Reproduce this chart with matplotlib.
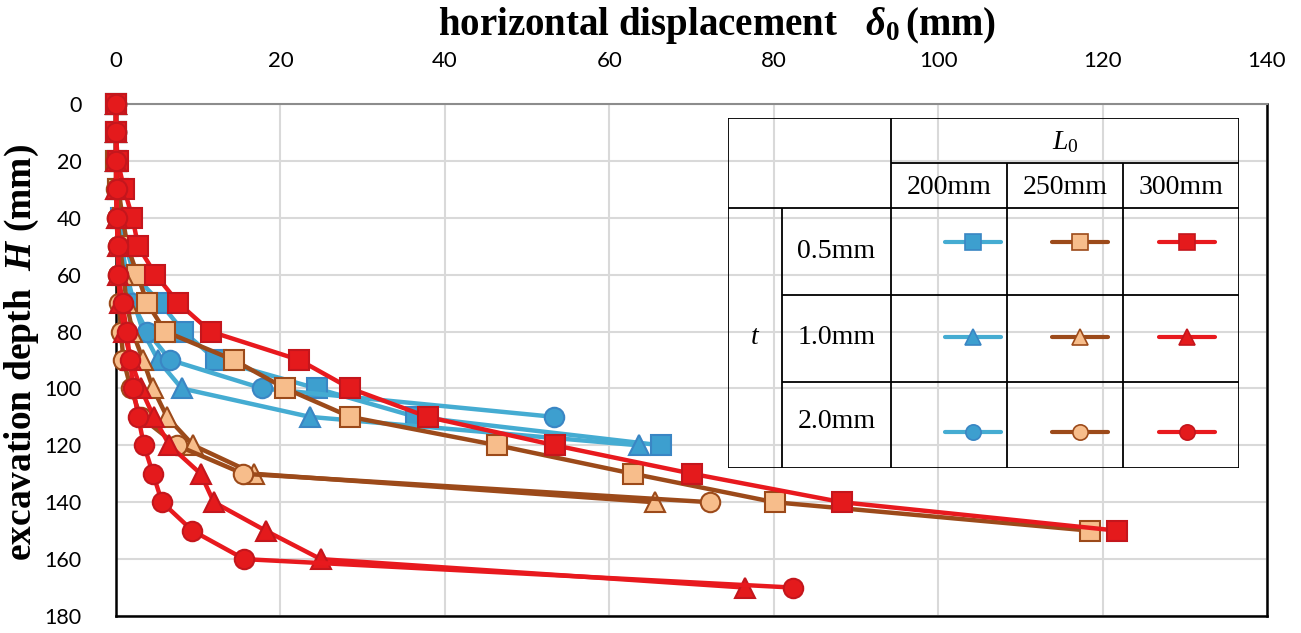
import numpy as np
import matplotlib.pyplot as plt

plt.rcParams['mathtext.fontset'] = 'custom'
plt.rcParams['mathtext.rm'] = 'Liberation Serif'
plt.rcParams['mathtext.it'] = 'Liberation Serif:italic'
plt.rcParams['mathtext.bf'] = 'Liberation Serif:bold'
plt.rcParams['mathtext.bfit'] = 'Liberation Serif:bold:italic'

# depth of each excavation step (mm)
depth = [0, 10, 20, 30, 40, 50, 60, 70, 80, 90, 100, 110, 120, 130, 140, 150, 160, 170]

# horizontal displacement (mm), L0 = 200 / 250 / 300 mm, t = 0.5 / 1.0 / 2.0 mm
d200_t05 = [0, 0, 0, 0.2, 0.6, 1.2, 2.2, 5.4, 8.2, 12.2, 24.4, 36.5, 66.3]
d200_t10 = [0, 0, 0, 0.1, 0.3, 0.7, 1.3, 2.2, 3.3, 5.1, 8.0, 23.6, 63.6]
d200_t20 = [0, 0, 0, 0.1, 0.3, 0.6, 1.1, 2.0, 3.8, 6.6, 17.8, 53.3]

d250_t05 = [0, 0, 0, 0.3, 0.8, 1.4, 2.6, 3.8, 6.0, 14.3, 20.6, 28.5, 46.4, 62.9, 80.1, 118.5]
d250_t10 = [0, 0, 0, 0.1, 0.2, 0.5, 0.9, 1.3, 2.0, 3.3, 4.5, 6.2, 9.4, 16.8, 65.5]
d250_t20 = [0, 0, 0, 0, 0.1, 0.2, 0.3, 0.4, 0.6, 0.9, 1.8, 3.0, 7.4, 15.5, 72.3]

d300_t05 = [0, 0, 0.2, 1.0, 2.0, 2.7, 4.8, 7.6, 11.5, 22.3, 28.5, 37.9, 53.4, 70.1, 88.3, 121.8]
d300_t10 = [0, 0, 0, 0, 0.1, 0.2, 0.3, 0.5, 1.0, 1.8, 3.0, 4.6, 6.5, 10.3, 11.9, 18.2, 24.9, 76.5]
d300_t20 = [0, 0, 0, 0.1, 0.1, 0.3, 0.3, 0.8, 1.3, 1.7, 2.1, 2.7, 3.4, 4.5, 5.6, 9.3, 15.6, 82.3]

L0_labels = ['200mm', '250mm', '300mm']
t_labels = ['0.5mm', '1.0mm', '2.0mm']

# styles: (line colour, marker face, marker edge) per L0 ; marker per t
styles = [('#45acd2', '#3d9fcf', '#3a86c4'),
          ('#9c4a1a', '#f7bd8b', '#9c4a1a'),
          ('#e8191e', '#e41a1c', '#c4161c')]
markers = ['s', '^', 'o']
msizes = [14, 14, 14]

series = [[d200_t05, d200_t10, d200_t20],
          [d250_t05, d250_t10, d250_t20],
          [d300_t05, d300_t10, d300_t20]]

fig = plt.figure(figsize=(13.01, 6.33), dpi=100)
ax = fig.add_axes([116/1301, 1-616/633, (1267-116)/1301, (616-104)/633])

for i, group in enumerate(series):
    lc, mf, me = styles[i]
    for j, vals in enumerate(group):
        ax.plot(vals, depth[:len(vals)], color=lc, lw=3.2, marker=markers[j],
                ms=msizes[j], mfc=mf, mec=me, mew=1.5, clip_on=False, zorder=3)

ax.set_xlim(0, 140)
ax.set_ylim(180, 0)
ax.set_xticks(np.arange(0, 141, 20))
ax.set_yticks(np.arange(0, 181, 20))
ax.xaxis.tick_top()
ax.tick_params(axis='x', length=0, labelsize=16, pad=24)
ax.tick_params(axis='y', length=0, labelsize=15.5, pad=25)
for lab in ax.get_xticklabels() + ax.get_yticklabels():
    lab.set_fontfamily('Lato')
ax.grid(color='#d9d9d9', lw=1.5)
ax.set_axisbelow(True)
for s in ['left', 'bottom', 'right']:
    ax.spines[s].set_color('black')
    ax.spines[s].set_linewidth(1.8)
ax.spines['top'].set_color('#8c8c8c')
ax.spines['top'].set_linewidth(1.5)

fig.text(717/1301, 1-25/633, r'horizontal displacement   $\mathbfit{\delta}_\mathbf{0}\,$(mm)',
         family='Liberation Serif', weight='bold', fontsize=28, ha='center', va='center')
fig.text(22/1301, 1-352/633, r'excavation depth  $\mathbfit{H}$ (mm)',
         family='Liberation Serif', weight='bold', fontsize=27, ha='center', va='center',
         rotation=90)

# legend table
leg = fig.add_axes([728/1301, 1-468/633, 511/1301, 350/633])
leg.set_xlim(728, 1239)
leg.set_ylim(468, 118)
leg.axis('off')
leg.patch.set_alpha(0)

xl, xt, xh, xr = 728, 782, 891, 1239
col_edges = [891, 1007, 1123, 1239]
yt, yh, yb = 118, 163, 208
row_edges = [208, 295, 382, 468]
kw = dict(color='black', lw=1.3, solid_capstyle='butt')
leg.plot([xl, xr, xr, xl, xl], [yt, yt, row_edges[-1], row_edges[-1], yt], **kw)
leg.plot([xh, xh], [yt, row_edges[-1]], **kw)
for x in col_edges[1:-1]:
    leg.plot([x, x], [yh, row_edges[-1]], **kw)
leg.plot([xt, xt], [yb, row_edges[-1]], **kw)
leg.plot([xh, xr], [yh, yh], **kw)
leg.plot([xl, xr], [yb, yb], **kw)
for y in row_edges[1:-1]:
    leg.plot([xt, xr], [y, y], **kw)

tfont = dict(family='Liberation Serif', fontsize=20, ha='center', va='center')
leg.text((xh + xr) / 2, 142, r'$L_0$', **tfont)
for k, lab in enumerate(L0_labels):
    leg.text((col_edges[k] + col_edges[k+1]) / 2, 187, lab, **tfont)
row_y = [252, 337, 422]
for k, lab in enumerate(t_labels):
    leg.text((xt + xh) / 2, row_y[k], lab, **tfont)
leg.text((xl + xt) / 2, 337, r'$t$', **tfont)

sample_x = [973, 1080, 1187]
sample_y = [242, 337, 432]
for i in range(3):
    lc, mf, me = styles[i]
    for j in range(3):
        cx, cy = sample_x[i], sample_y[j]
        leg.plot([cx - 28, cx, cx + 28], [cy, cy, cy], color=lc, lw=3,
                 solid_capstyle='round', marker=markers[j], markevery=[1],
                 ms=11, mfc=mf, mec=me, mew=1.2)

fig.savefig('out.png', dpi=100)
